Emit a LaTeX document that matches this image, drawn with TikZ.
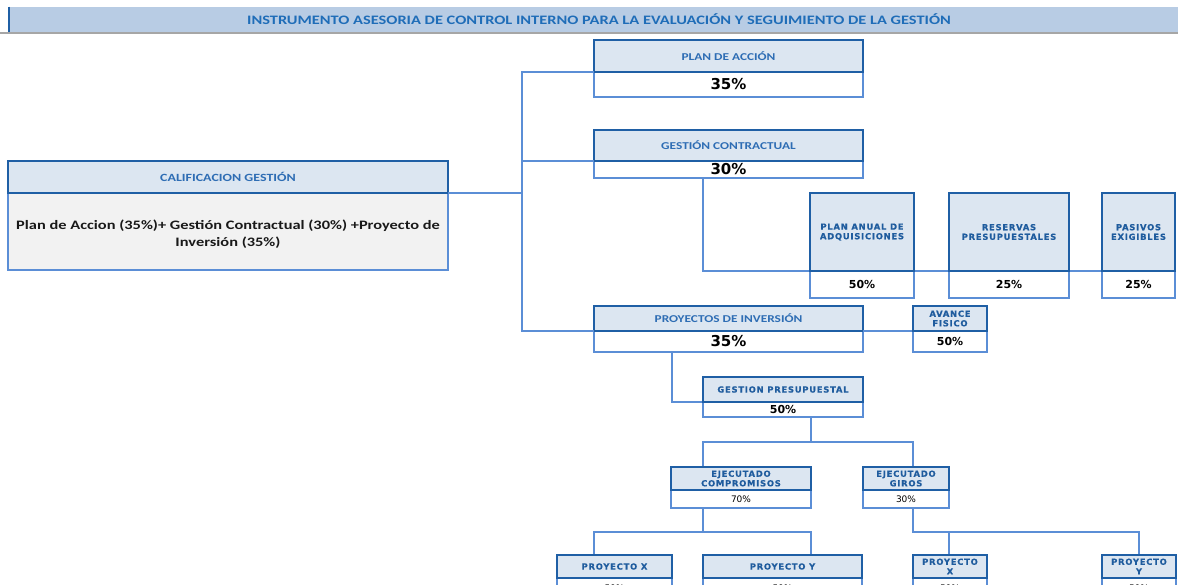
\documentclass[tikz,border=0pt]{standalone}
\usepackage{fontspec}
\newfontfamily\calfont{Carlito}[FakeStretch=1.27]
\newfontfamily\dvfont{DejaVu Sans}
\newfontfamily\smallfont{DejaVu Sans}[LetterSpace=9,FakeBold=0.4]
\definecolor{hdrfill}{HTML}{DCE6F1}
\definecolor{hdrb}{HTML}{1F5FA5}
\definecolor{lineb}{HTML}{5B8ED6}
\definecolor{titlefill}{HTML}{B8CCE4}
\definecolor{titletext}{HTML}{1F6DB8}
\definecolor{hdrtext}{HTML}{2E6DB4}
\definecolor{smalltext}{HTML}{1F5C9E}
\definecolor{bodyfill}{HTML}{F2F2F2}
\definecolor{graylinec}{HTML}{A6A6A6}
\tikzset{
  hdr/.style={draw=hdrb, line width=2.2pt, fill=hdrfill, inner sep=0pt, outer sep=0pt, align=center},
  bighdr/.style={hdr, text=hdrtext, font=\calfont\bfseries\fontsize{10.5}{12}\selectfont},
  smallhdr/.style={hdr, text=smalltext, font=\smallfont\bfseries\fontsize{8.4}{9.6}\selectfont},
  valbox/.style={draw=lineb, line width=1.8pt, fill=white, inner sep=0pt, outer sep=0pt, align=center},
  bigval/.style={valbox, font=\dvfont\bfseries\fontsize{15}{16}\selectfont},
  midval/.style={valbox, font=\dvfont\bfseries\fontsize{11}{12}\selectfont},
  smallval/.style={valbox, font=\dvfont\fontsize{9}{10}\selectfont},
  conn/.style={draw=lineb, line width=2pt}
}
\begin{document}
\begin{tikzpicture}[x=1pt,y=-1pt]
\useasboundingbox (0,0) rectangle (1178,584);
\clip (0,0) rectangle (1178,584);
% title bar
\fill[titlefill] (8,6.7) rectangle (1178,33);
\draw[draw=hdrb, line width=2.5pt] (9,6.7) -- (9,33);
\draw[draw=graylinec, line width=1.5pt] (0,33) -- (1178,33);
\node[text=titletext, font=\calfont\bfseries\fontsize{12.9}{14}\selectfont] (title) at (599,19.5) {INSTRUMENTO ASESORIA DE CONTROL INTERNO PARA LA EVALUACIÓN Y SEGUIMIENTO DE LA GESTIÓN};

% junction coordinates
\coordinate (trunk) at (522,193);
\coordinate (gcdrop) at (703,178);
\coordinate (pidrop) at (672,352);
\coordinate (gpdrop) at (811,417);
\coordinate (gpbar) at (811,442);
\coordinate (ecin) at (703,467);
\coordinate (egin) at (913,467);
\coordinate (ecdrop) at (703,508);
\coordinate (ecbar) at (703,532);
\coordinate (egdrop) at (913,508);
\coordinate (egbar) at (913,532);
\coordinate (px1in) at (594,555);
\coordinate (py1in) at (811,555);
\coordinate (px2in) at (949,555);
\coordinate (py2in) at (1139,555);

% ---- Calificacion
\node[valbox, draw=lineb, fill=bodyfill, minimum width=440pt, minimum height=77pt,
      font=\calfont\bfseries\fontsize{12.9}{17}\selectfont, text=black!90] (calb) at (228,231.5)
  {\rule{0pt}{14pt}Plan de Accion (35\%)+ Gestión Contractual (30\%) +Proyecto de\\Inversión (35\%)};
\node[bighdr, font=\calfont\bfseries\fontsize{11}{12}\selectfont, minimum width=440pt, minimum height=32pt] (calh) at (228,177) {CALIFICACION GESTIÓN};

% ---- Plan de accion
\node[bigval, minimum width=269pt, minimum height=25pt] (pav) at (728.5,84.5) {35\%};
\node[bighdr, minimum width=269pt, minimum height=32pt] (pah) at (728.5,56) {PLAN DE ACCIÓN};

% ---- Gestion contractual
\node[bigval, minimum width=269pt, minimum height=17pt] (gcv) at (728.5,169.5) {30\%};
\node[bighdr, minimum width=269pt, minimum height=31pt] (gch) at (728.5,145.5) {GESTIÓN CONTRACTUAL};

% ---- Proyectos de inversion
\node[bigval, minimum width=269pt, minimum height=21pt] (piv) at (728.5,341.5) {35\%};
\node[bighdr, minimum width=269pt, minimum height=25pt] (pih) at (728.5,318.5) {PROYECTOS DE INVERSIÓN};

% connectors
\draw[conn] (calh.south east) -- (trunk);
\draw[conn] (pah.south west) -| (trunk) |- (pih.south west);
\draw[conn] (gch.south west) -- (gch.south west -| trunk);
\draw[conn] (gcdrop) |- (1102,271) coordinate (pasin);
\draw[conn] (pih.south east) -- (913,331) coordinate (afin);
\draw[conn] (pidrop) |- (703,402) coordinate (gpin);
\draw[conn] (gpdrop) -- (gpbar);
\draw[conn] (ecin) |- (gpbar) -| (egin);
\draw[conn] (ecdrop) -- (ecbar);
\draw[conn] (px1in) |- (ecbar) -| (py1in);
\draw[conn] (egdrop) -- (egbar) -| (py2in);
\draw[conn] (px2in) -- (px2in |- egbar);

% ---- Plan anual / reservas / pasivos
\node[midval, minimum width=104pt, minimum height=27pt] (paav) at (862,284.5) {50\%};
\node[smallhdr, minimum width=104pt, minimum height=78pt] (paah) at (862,232) {PLAN ANUAL DE\\ADQUISICIONES};
\node[midval, minimum width=120pt, minimum height=27pt] (resv) at (1009,284.5) {25\%};
\node[smallhdr, minimum width=120pt, minimum height=78pt] (resh) at (1009,232) {RESERVAS\\PRESUPUESTALES};
\node[midval, minimum width=73pt, minimum height=27pt] (pasv) at (1138.5,284.5) {25\%};
\node[smallhdr, minimum width=73pt, minimum height=78pt] (pash) at (1138.5,232) {PASIVOS\\EXIGIBLES};

% ---- Avance fisico
\node[midval, minimum width=74pt, minimum height=21pt] (afv) at (950,341.5) {50\%};
\node[smallhdr, minimum width=74pt, minimum height=25pt] (afh) at (950,318.5) {AVANCE\\FISICO};

% ---- Gestion presupuestal
\node[midval, minimum width=160pt, minimum height=15pt] (gpv) at (783,409.5) {50\%};
\node[smallhdr, minimum width=160pt, minimum height=25pt] (gph) at (783,389.5) {GESTION PRESUPUESTAL};

% ---- Ejecutado
\node[smallval, minimum width=140pt, minimum height=18pt] (ecv) at (741,499) {70\%};
\node[smallhdr, minimum width=140pt, minimum height=23pt] (ech) at (741,478.5) {EJECUTADO\\COMPROMISOS};
\node[smallval, minimum width=86pt, minimum height=18pt] (egv) at (906,499) {30\%};
\node[smallhdr, minimum width=86pt, minimum height=23pt] (egh) at (906,478.5) {EJECUTADO\\GIROS};

% ---- Proyectos
\node[smallval, minimum width=115pt, minimum height=20pt] (px1v) at (614.5,588) {50\%};
\node[smallhdr, minimum width=115pt, minimum height=23pt] (px1h) at (614.5,566.5) {PROYECTO X};
\node[smallval, minimum width=159pt, minimum height=20pt] (py1v) at (782.5,588) {50\%};
\node[smallhdr, minimum width=159pt, minimum height=23pt] (py1h) at (782.5,566.5) {PROYECTO Y};
\node[smallval, minimum width=74pt, minimum height=20pt] (px2v) at (950,588) {50\%};
\node[smallhdr, minimum width=74pt, minimum height=23pt] (px2h) at (950,566.5) {PROYECTO\\X};
\node[smallval, minimum width=74pt, minimum height=20pt] (py2v) at (1139,588) {50\%};
\node[smallhdr, minimum width=74pt, minimum height=23pt] (py2h) at (1139,566.5) {PROYECTO\\Y};
\end{tikzpicture}
\end{document}
